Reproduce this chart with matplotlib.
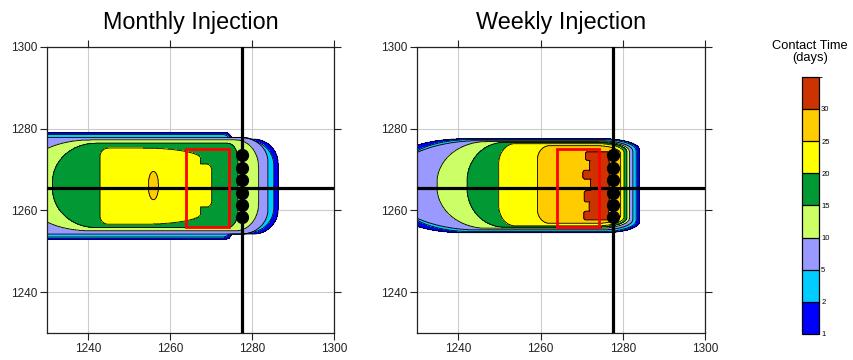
import numpy as np
import matplotlib.pyplot as plt
from matplotlib.colors import ListedColormap, BoundaryNorm
from matplotlib.cm import ScalarMappable
from matplotlib.patches import Rectangle

plt.rcParams['font.family'] = ['Liberation Sans', 'DejaVu Sans']

# contact time classes (days) and their fill colours
levels = [1, 2, 5, 10, 15, 20, 25, 30, 35]
band_colors = ['#0000ff', '#00ccff', '#9999ff', '#ccff66',
               '#009933', '#ffff00', '#ffcc00', '#cc3300']

# plume outline per contact-time class: lower class value, x/y extent,
# left and right corner size (width, height)
monthly_level = [1, 1, 2, 2, 5, 10, 15, 20, 20, 25]
monthly_x0 = [1215, 1262, 1215, 1262, 1215, 1226, 1231.4, 1243, 1265, 1254.8]
monthly_x1 = [1275, 1286.4, 1274.5, 1285.3, 1283.9, 1281.6, 1276.6, 1267.5, 1270.2, 1257.2]
monthly_y0 = [1252.9, 1254.2, 1253.5, 1254.6, 1254.2, 1255.0, 1255.8, 1256.6, 1260.8, 1262.6]
monthly_y1 = [1279.0, 1277.4, 1278.5, 1277.0, 1277.8, 1277.2, 1276.4, 1275.2, 1271.3, 1269.5]
monthly_left = [(1, 1), (1, 1), (1, 1), (1, 1), (1, 1), (14.6, 7), (10.5, 9.5), (2, 2), (1, 1), (1.2, 3)]
monthly_right = [(1.5, 1.5), (6, 6), (1.5, 1.5), (6, 6), (6.5, 6), (5.5, 6.5), (2.5, 4), (14, 2.5), (1.2, 1.5), (1.2, 3)]

weekly_level = [1, 2, 5, 10, 15, 20, 25, 30, 30, 30, 30, 30, 30, 30]
weekly_x0 = [1226, 1227.5, 1223, 1234.8, 1242.1, 1249.8, 1259.2,
             1270.9, 1271.9, 1270.3, 1272.1, 1270.6, 1271.8, 1270.5]
weekly_x1 = [1284.0, 1283.2, 1282.4, 1281.6, 1281.0, 1280.3, 1279.5,
             1276.7, 1276.7, 1276.7, 1276.7, 1276.7, 1276.7, 1276.7]
weekly_y0 = [1254.5, 1254.8, 1255.2, 1255.6, 1255.9, 1256.2, 1256.8,
             1272.2, 1269.6, 1267.6, 1264.6, 1262.0, 1259.6, 1257.6]
weekly_y1 = [1277.5, 1277.3, 1277.0, 1276.8, 1276.6, 1276.3, 1275.8,
             1274.3, 1272.4, 1269.8, 1267.8, 1264.8, 1262.2, 1259.8]
weekly_left = [(16, 4.7), (16, 6), (22, 10.6), (12, 10), (9, 9.5), (4, 5), (3, 3.5)] + [(0.6, 0.6)] * 7
weekly_right = [(9, 2.6), (8.5, 2.6), (8, 2.5), (7.5, 2.4), (7, 2.3), (6.5, 2.2), (6, 2)] + [(0.6, 0.6)] * 7

# monitoring wells, transect lines and target zone
well_x = 1277.5
well_y = [1273.5, 1270.4, 1267.4, 1264.3, 1261.4, 1258.4]
transect_y = 1265.5
zone_x = (1264.0, 1274.3)
zone_y = (1255.8, 1275.1)

titles = ['Monthly Injection', 'Weekly Injection']
ticks = [1240, 1260, 1280, 1300]


def inside(X, Y, x0, x1, y0, y1, left, right):
    top = np.full_like(X, y1)
    bot = np.full_like(X, y0)
    for cx, w, h, sign in [(x0 + left[0], left[0], left[1], -1),
                           (x1 - right[0], right[0], right[1], 1)]:
        d = np.clip(sign * (X - cx) / w, 0, 1)
        s = np.sqrt(1 - d ** 2)
        m = d > 0
        top = np.where(m, np.minimum(top, y1 - h + h * s), top)
        bot = np.where(m, np.maximum(bot, y0 + h - h * s), bot)
    return (X >= x0) & (X <= x1) & (Y <= top) & (Y >= bot)


def build_field(X, Y, lev, x0, x1, y0, y1, left, right):
    Z = np.zeros_like(X)
    for i in range(len(lev)):
        k = levels.index(lev[i])
        mid = (levels[k] + levels[k + 1]) / 2
        m = inside(X, Y, x0[i], x1[i], y0[i], y1[i], left[i], right[i])
        Z = np.where(m, np.maximum(Z, mid), Z)
    return Z


gx = np.arange(1226, 1304, 0.08)
X, Y = np.meshgrid(gx, gx)
fields = [
    build_field(X, Y, monthly_level, monthly_x0, monthly_x1, monthly_y0,
                monthly_y1, monthly_left, monthly_right),
    build_field(X, Y, weekly_level, weekly_x0, weekly_x1, weekly_y0,
                weekly_y1, weekly_left, weekly_right),
]

W, H = 854, 360
fig = plt.figure(figsize=(W / 100, H / 100), dpi=100)

boxes = [(46.7, 334.0), (417.3, 705.0)]
for (xl, xr), Z, title in zip(boxes, fields, titles):
    ax = fig.add_axes([xl / W, 1 - 333 / H, (xr - xl) / W, (333 - 46.7) / H])
    ax.contourf(X, Y, Z, levels=levels, colors=band_colors, zorder=1)
    ax.contour(X, Y, Z, levels=levels[:-1], colors='k', linewidths=0.6, zorder=2)
    ax.axhline(transect_y, color='k', lw=2.3, zorder=4)
    ax.axvline(well_x, color='k', lw=2.3, zorder=4)
    ax.add_patch(Rectangle((zone_x[0], zone_y[0]), zone_x[1] - zone_x[0],
                           zone_y[1] - zone_y[0], fill=False, ec='#ff0000',
                           lw=2.0, zorder=5))
    ax.plot(np.full(len(well_y), well_x), well_y, 'o', color='k', ms=8.5, zorder=6)

    ax.set_xlim(1230, 1300)
    ax.set_ylim(1230, 1300)
    ax.set_xticks(ticks)
    ax.set_yticks(ticks)
    ax.set_axisbelow(True)
    ax.grid(color='#cccccc', lw=0.8)
    ax.tick_params(direction='out', top=True, right=True, length=5,
                   width=0.8, labelsize=8.5, pad=2, colors='#222222')
    for sp in ax.spines.values():
        sp.set_linewidth(0.9)
        sp.set_color('#222222')
    fig.text((xl + xr) / 2 / W, 1 - 29.3 / H, title, ha='center',
             va='baseline', fontsize=16.8)

# colour scale
cax = fig.add_axes([802.3 / W, 1 - 334 / H, 16.7 / W, 257.3 / H])
cmap = ListedColormap(band_colors)
norm = BoundaryNorm(levels, cmap.N)
cb = fig.colorbar(ScalarMappable(norm=norm, cmap=cmap), cax=cax,
                  boundaries=levels, spacing='uniform', ticks=levels[:-1],
                  drawedges=True)
cb.ax.tick_params(labelsize=5.5, length=0, pad=1.5)
cb.outline.set_linewidth(0.9)
cb.dividers.set_linewidth(0.9)
fig.text(810.3 / W, 1 - 52 / H, 'Contact Time\n(days)', ha='center',
         va='center', fontsize=9.3, linespacing=0.95)

fig.savefig('out.png', dpi=100)
